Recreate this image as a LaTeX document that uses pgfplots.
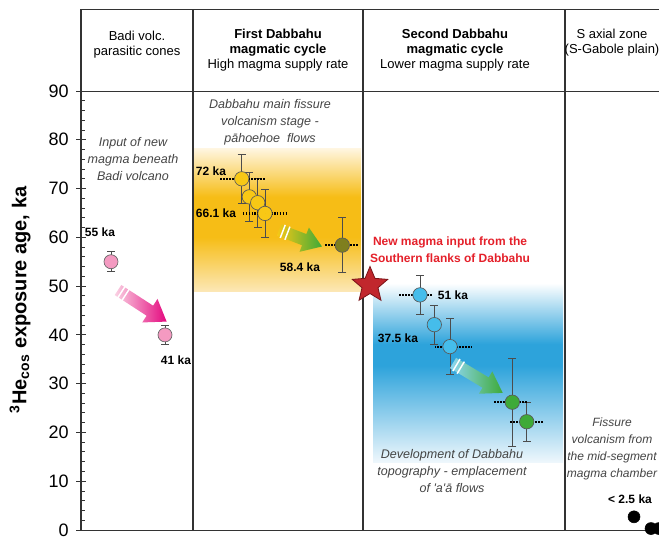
\documentclass[border=0pt]{standalone}
\usepackage{fontspec}
\setmainfont{Liberation Sans}
\usepackage{pgfplots}
\pgfplotsset{compat=1.18}

\definecolor{pinkF}{HTML}{F49AC1}
\definecolor{pinkA}{HTML}{E4087E}
\definecolor{yellowF}{HTML}{F8C815}
\definecolor{oliveF}{HTML}{7F7F1E}
\definecolor{blueF}{HTML}{45BDEB}
\definecolor{greenF}{HTML}{3EAA38}
\definecolor{orangeB}{HTML}{F6BD16}
\definecolor{oTop}{HTML}{FFF6E2}
\definecolor{oBot}{HTML}{FCE8B8}
\definecolor{blueB}{HTML}{2DA3DB}
\definecolor{bBot}{HTML}{EEF7FC}
\definecolor{starR}{HTML}{C1272D}
\definecolor{starD}{HTML}{7A1418}
\definecolor{redT}{HTML}{E4202A}
\definecolor{lineD}{HTML}{333333}
\definecolor{txtG}{HTML}{444444}

\pgfdeclareverticalshading{orangeband}{100bp}{color(0bp)=(oBot); color(25bp)=(oBot); color(44bp)=(orangeB); color(58bp)=(orangeB); color(75bp)=(oTop); color(100bp)=(oTop)}
\pgfdeclareverticalshading{blueband}{100bp}{color(0bp)=(bBot); color(25bp)=(bBot); color(52bp)=(blueB); color(58bp)=(blueB); color(75bp)=(white); color(100bp)=(white)}

\pgfdeclareplotmark{fstar}{%
 \pgfpathmoveto{\pgfpointpolar{90}{\pgfplotmarksize}}%
 \pgfpathlineto{\pgfpointpolar{126}{0.45\pgfplotmarksize}}%
 \pgfpathlineto{\pgfpointpolar{162}{\pgfplotmarksize}}%
 \pgfpathlineto{\pgfpointpolar{198}{0.45\pgfplotmarksize}}%
 \pgfpathlineto{\pgfpointpolar{234}{\pgfplotmarksize}}%
 \pgfpathlineto{\pgfpointpolar{270}{0.45\pgfplotmarksize}}%
 \pgfpathlineto{\pgfpointpolar{306}{\pgfplotmarksize}}%
 \pgfpathlineto{\pgfpointpolar{342}{0.45\pgfplotmarksize}}%
 \pgfpathlineto{\pgfpointpolar{18}{\pgfplotmarksize}}%
 \pgfpathlineto{\pgfpointpolar{54}{0.45\pgfplotmarksize}}%
 \pgfpathclose
 \pgfusepathqfillstroke}

\pgfplotsset{
 vbar/.style={error bars/.cd, y dir=both, y explicit,
   error bar style={draw=black!70, line width=0.75pt},
   error mark options={draw=black!70, line width=0.75pt, mark size=3pt, rotate=90}},
 hbar/.style={error bars/.cd, x dir=both, x explicit,
   error bar style={draw=black, line width=1.6pt, dash pattern=on 1.3pt off 0.9pt},
   error mark=none},
}

\begin{document}
\begin{tikzpicture}
\path[use as bounding box, clip] (0,0) rectangle (494.25pt,402pt);
\begin{axis}[
 at={(60.75pt,4.5pt)}, anchor=south west,
 scale only axis, width=441.75pt, height=329.25pt,
 xmin=81, xmax=670, ymin=0, ymax=90,
 axis x line*=bottom, axis y line*=left,
 x axis line style={draw=lineD, line width=0.75pt},
 y axis line style={draw=lineD, line width=1.2pt},
 xtick=\empty,
 ytick={0,10,...,90}, minor y tick num=4,
 tick align=center,
 major tick length=7.5pt, minor tick length=3pt,
 tick style={lineD, line width=0.7pt},
 minor tick style={xshift=1.5pt},
 yticklabel style={font=\fontsize{13.5}{15}\selectfont, black, xshift=-2pt},
 /pgf/number format/assume math mode=true,
 clip=false,
]
% background bands
\shade[shading=orangeband] (axis cs:194,48.8) rectangle (axis cs:361,78.3);
\shade[shading=blueband] (axis cs:373,13.9) rectangle (axis cs:563,50.6);
% frame lines
\draw[lineD, line width=0.75pt] (axis cs:81,90) -- (axis cs:670,90);
\draw[lineD, line width=0.75pt] (axis cs:81,106.8) -- (axis cs:670,106.8);
\draw[lineD, line width=1.2pt] (axis cs:81,90) -- (axis cs:81,106.8);
\draw[lineD, line width=1.5pt] (axis cs:193,0) -- (axis cs:193,106.8);
\draw[lineD, line width=1.5pt] (axis cs:363,0) -- (axis cs:363,106.8);
\draw[lineD, line width=1.5pt] (axis cs:565,0) -- (axis cs:565,106.8);

% pink
\addplot[only marks, mark=*, mark size=5.25pt, mark options={fill=pinkF, draw=black!60, line width=0.5pt}, vbar]
 coordinates {(111,55) +- (0,2) (165,40) +- (0,2)};
% yellow
\addplot[only marks, mark=*, mark size=5.4pt, mark options={fill=yellowF, draw=black!65, line width=0.5pt}, vbar]
 coordinates {(241.7,72) +- (0,5) (249.3,68.3) +- (0,5) (257.7,67.1) +- (0,5) (265,64.9) +- (0,5)};
% olive
\addplot[only marks, mark=*, mark size=5.4pt, mark options={fill=oliveF, draw=black!65, line width=0.5pt}, vbar]
 coordinates {(342.3,58.4) +- (0,5.7)};
% blue
\addplot[only marks, mark=*, mark size=5.4pt, mark options={fill=blueF, draw=black!65, line width=0.5pt}, vbar]
 coordinates {(420,48.2) +- (0,4) (434.3,42.1) +- (0,4) (450,37.6) +- (0,5.8)};
% green
\addplot[only marks, mark=*, mark size=5.4pt, mark options={fill=greenF, draw=black!65, line width=0.5pt}, vbar]
 coordinates {(512.3,26.2) +- (0,9) (526.7,22.2) +- (0,4)};
% black
\addplot[only marks, mark=*, mark size=4.5pt, mark options={fill=black, draw=black}]
 coordinates {(634,2.7) (651,0.3) (659,0.3)};
% horizontal dotted bars
\addplot[only marks, mark=*, mark size=0pt, mark options={draw=none, fill=none}, hbar]
 coordinates {(242.5,72) +- (22.5,0) (265,64.9) +- (22,0) (341.5,58.4) +- (16.5,0)
  (415.5,48.2) +- (17.5,0) (453.5,37.6) +- (18.5,0) (510.5,26.2) +- (17.5,0) (526.5,22.2) +- (16.5,0)};
% star
\addplot[only marks, mark=fstar, mark size=14pt, mark options={fill=starR, draw=starD, line width=0.6pt}]
 coordinates {(370,50.2)};
\end{axis}

\begin{scope}[x=0.75pt, y=-0.75pt, yshift=402pt]
% y label
\node[rotate=90, font=\bfseries\fontsize{15}{17}\selectfont] at (20,300) {\textsuperscript{3}He\textsubscript{cos} exposure age, ka};
% headers
\begin{scope}[font=\fontsize{9.75}{11.25}\selectfont, align=center]
\node at (137,45) {Badi volc.\\parasitic cones};
\node at (278,50) {\textbf{First Dabbahu}\\\textbf{magmatic cycle}\\High magma supply rate};
\node at (455,50.5) {\textbf{Second Dabbahu}\\\textbf{magmatic cycle}\\Lower magma supply rate};
\node at (612,42.5) {S axial zone\\(S-Gabole plain)};
\end{scope}
% italic annotations
\begin{scope}[font=\itshape\fontsize{9.4}{12.75}\selectfont, align=center, text=txtG]
\node at (133,159) {Input of new\\magma beneath\\Badi volcano};
\node at (270,122) {Dabbahu main fissure\\volcanism stage -\\pāhoehoe\ \ flows};
\node at (452,471) {Development of Dabbahu\\topography - emplacement\\of \textquotesingle a\textquotesingle ā flows};
\end{scope}
\node[font=\itshape\fontsize{9}{12.75}\selectfont, align=center, text=txtG] at (612,449) {Fissure\\volcanism from\\the mid-segment\\magma chamber};
\node[font=\bfseries\fontsize{9}{12.75}\selectfont, align=center, text=redT] at (450,250) {New magma input from the\\Southern flanks of Dabbahu};
% point labels
\begin{scope}[font=\bfseries\fontsize{9}{11}\selectfont]
\node at (100,232) {55 ka};
\node at (176,360) {41 ka};
\node at (211,171) {72 ka};
\node at (216,213) {66.1 ka};
\node at (300,267) {58.4 ka};
\node at (453,295) {51 ka};
\node at (398,338) {37.5 ka};
\node at (630,499) {< 2.5 ka};
\end{scope}
% arrows
\begin{scope}[shift={(118,290)}, rotate=-33]
\shade[left color=pinkF!45, right color=pinkA] (0,-6) -- (38,-6) -- (38,-14) -- (58,0) -- (38,14) -- (38,6) -- (0,6) -- cycle;
\draw[white, line width=1.1pt] (4,-7) -- (4,7) (9,-7) -- (9,7);
\end{scope}
\begin{scope}[shift={(279,230)}, rotate=-21]
\shade[left color=yellowF, right color=greenF] (0,-6) -- (27,-6) -- (27,-13) -- (46,0) -- (27,13) -- (27,6) -- (0,6) -- cycle;
\draw[white, line width=1.1pt] (4,-7) -- (4,7) (9,-7) -- (9,7);
\end{scope}
\begin{scope}[shift={(453,363)}, rotate=-31]
\shade[left color=blueF!60, right color=greenF] (0,-6) -- (38,-6) -- (38,-13) -- (58,0) -- (38,13) -- (38,6) -- (0,6) -- cycle;
\draw[white, line width=1.1pt] (4,-7) -- (4,7) (9,-7) -- (9,7);
\end{scope}
\end{scope}
\end{tikzpicture}
\end{document}
